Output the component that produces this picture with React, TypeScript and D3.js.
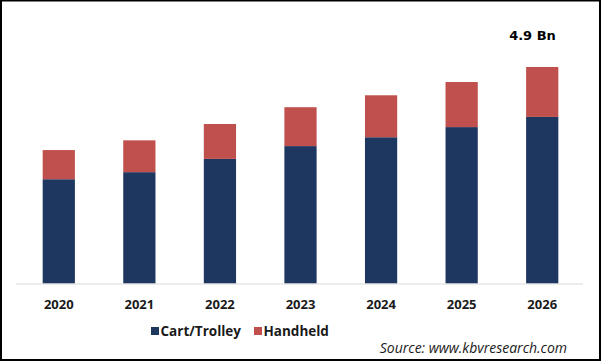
import React from 'react';
import * as d3 from 'd3';

const years = ['2020', '2021', '2022', '2023', '2024', '2025', '2026'];
const cartTrolley = [2.36, 2.52, 2.82, 3.11, 3.31, 3.54, 3.77];
const handheld = [0.66, 0.72, 0.79, 0.88, 0.95, 1.02, 1.13];
const seriesNames = ['Cart/Trolley', 'Handheld'];
const colors = ['#1d3760', '#c0504d'];

const W = 601, H = 361;
const baseY = 283.5;
const font = '"Open Sans", sans-serif';

const App: React.FC = () => {
  const rows = years.map((y, i) => ({ year: y, 'Cart/Trolley': cartTrolley[i], Handheld: handheld[i] }));
  const stack = d3.stack<any>().keys(seriesNames)(rows);

  const x = d3.scaleBand().domain(years).range([18.5, 582.5]).paddingInner(0.6).paddingOuter(0.3);
  const y = d3.scaleLinear().domain([0, 4.9]).range([baseY, 67]);

  return (
    <svg width={W} height={H} style={{ position: 'absolute', left: 0, top: 0, background: '#fff' }}>
      <rect x={1} y={0.5} width={W - 2} height={H - 1.5} fill="#fff" stroke="#000" strokeWidth={2} />
      {stack.map((s, si) => (
        <g key={s.key} fill={colors[si]}>
          {s.map((d, i) => (
            <rect key={i} x={x(years[i])} y={y(d[1])} width={x.bandwidth()} height={y(d[0]) - y(d[1])} />
          ))}
        </g>
      ))}
      <line x1={16} x2={583} y1={baseY + 0.5} y2={baseY + 0.5} stroke="#d9d9d9" strokeWidth={1} />
      {years.map((yr) => (
        <text key={yr} x={(x(yr) ?? 0) + x.bandwidth() / 2} y={308.5} textAnchor="middle"
          fontFamily={font} fontWeight="bold" fontSize={13} fill="#1a1a1a">{yr}</text>
      ))}
      <text x={532.5} y={39.5} textAnchor="middle" fontFamily="'DejaVu Sans', sans-serif" fontWeight="bold" fontSize={13} fill="#000">4.9 Bn</text>
      <g fontFamily={font} fontWeight="bold" fontSize={13.5} fill="#1a1a1a">
        <rect x={151} y={327} width={8} height={8} fill={colors[0]} />
        <text x={160.5} y={336}>{seriesNames[0]}</text>
        <rect x={254} y={327} width={8} height={8} fill={colors[1]} />
        <text x={263.5} y={336}>{seriesNames[1]}</text>
      </g>
      <text x={567} y={353} textAnchor="end" fontFamily={font} fontStyle="italic" fontSize={14} fill="#1a1a1a">Source: www.kbvresearch.com</text>
    </svg>
  );
};

export default App;
